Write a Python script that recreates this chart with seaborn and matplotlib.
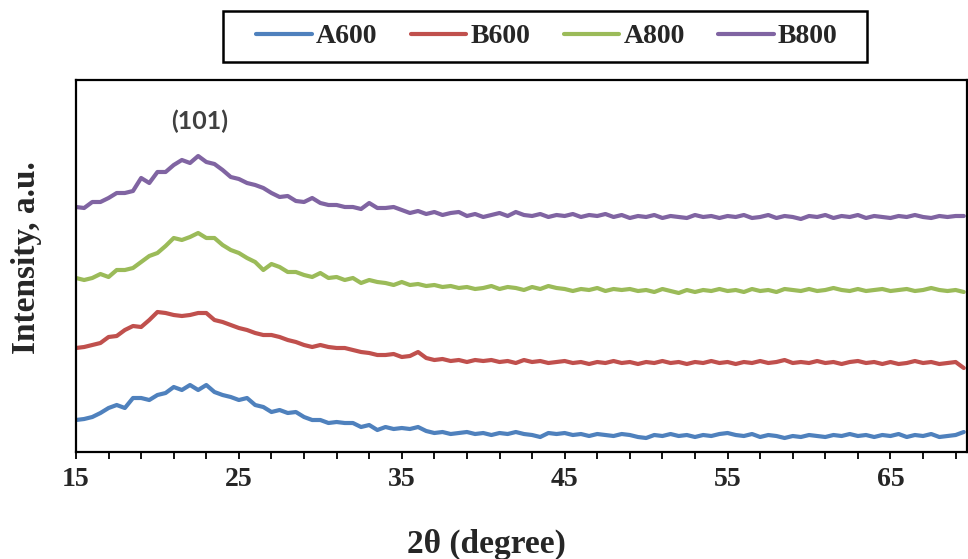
import numpy as np
import pandas as pd
import seaborn as sns
import matplotlib.pyplot as plt
from matplotlib.patches import Rectangle

# 2theta grid, 0.5 degree steps (15.0 ... 69.5)
two_theta = np.arange(15.0, 70.0, 0.5)

samples = ["A600", "B600", "A800", "B800"]
colors = ["#4F81BD", "#C0504D", "#9BBB59", "#8064A2"]

# intensities (a.u., curves already stacked with offset as in the figure)
a600 = [32, 33, 35, 39, 44, 47, 44, 54, 54, 52,
        57, 59, 65, 62, 67, 62, 67, 60, 57, 55,
        52, 54, 47, 45, 40, 42, 39, 40, 35, 32,
        32, 29, 30, 29, 29, 25, 27, 22, 25, 23,
        24, 23, 25, 21, 19, 20, 18, 19, 20, 18,
        19, 17, 19, 18, 20, 18, 17, 15, 19, 18,
        19, 17, 18, 16, 18, 17, 16, 18, 17, 15,
        14, 17, 16, 18, 16, 17, 15, 17, 16, 18,
        19, 17, 16, 18, 15, 17, 16, 14, 16, 15,
        17, 16, 15, 17, 16, 18, 16, 17, 15, 17,
        16, 18, 15, 17, 16, 18, 15, 16, 17, 20]

b600 = [104, 105, 107, 109, 115, 116, 122, 126, 125, 132,
        140, 139, 137, 136, 137, 139, 139, 132, 130, 127,
        124, 122, 119, 117, 117, 115, 112, 110, 107, 105,
        107, 105, 104, 104, 102, 100, 99, 97, 97, 98,
        95, 96, 100, 94, 92, 93, 91, 92, 90, 92,
        91, 92, 90, 91, 89, 92, 90, 91, 89, 90,
        91, 89, 90, 88, 90, 89, 91, 89, 90, 88,
        90, 89, 91, 89, 90, 88, 90, 89, 91, 89,
        90, 88, 90, 89, 91, 89, 90, 92, 89, 90,
        89, 91, 89, 90, 88, 90, 91, 89, 90, 88,
        90, 88, 89, 91, 89, 90, 88, 89, 90, 84]

a800 = [174, 172, 174, 178, 175, 182, 182, 184, 190, 196,
        199, 206, 214, 212, 215, 219, 214, 214, 207, 202,
        199, 194, 190, 182, 188, 185, 180, 180, 177, 175,
        179, 174, 175, 172, 174, 169, 172, 170, 169, 167,
        170, 167, 168, 166, 167, 165, 166, 164, 165, 163,
        164, 166, 163, 165, 164, 162, 165, 163, 166, 164,
        163, 161, 163, 162, 164, 161, 163, 162, 163, 161,
        162, 160, 163, 161, 159, 162, 160, 162, 161, 163,
        161, 162, 160, 163, 161, 162, 160, 163, 162, 161,
        163, 161, 162, 164, 162, 161, 163, 161, 162, 163,
        161, 162, 163, 161, 162, 164, 162, 161, 162, 160]

b800 = [245, 244, 250, 250, 254, 259, 259, 261, 274, 269,
        280, 280, 287, 292, 289, 296, 290, 288, 282, 275,
        273, 269, 267, 264, 259, 255, 256, 251, 250, 254,
        249, 247, 247, 245, 245, 243, 249, 244, 244, 245,
        242, 239, 241, 238, 240, 237, 239, 240, 236, 238,
        235, 237, 239, 236, 240, 237, 236, 238, 235, 237,
        236, 238, 235, 237, 236, 238, 235, 237, 234, 236,
        235, 237, 234, 236, 235, 234, 237, 235, 236, 234,
        236, 235, 237, 234, 235, 237, 234, 236, 235, 233,
        236, 235, 237, 234, 236, 235, 237, 234, 236, 235,
        234, 236, 235, 237, 235, 234, 236, 235, 236, 236]

df = pd.DataFrame({
    "two_theta": np.tile(two_theta, 4),
    "intensity": a600 + b600 + a800 + b800,
    "sample": np.repeat(samples, len(two_theta)),
})

sns.set_theme(style="white")
plt.rcParams["font.family"] = ["Liberation Serif", "DejaVu Serif"]
plt.rcParams["font.weight"] = "bold"

fig = plt.figure(figsize=(9.68, 5.59), dpi=100)
ax = fig.add_axes([0.0785, 0.1914, 0.9205, 0.6655])

sns.lineplot(data=df, x="two_theta", y="intensity", hue="sample",
             palette=colors, hue_order=samples, linewidth=3, ax=ax)

handles, labels = ax.get_legend_handles_labels()
ax.get_legend().remove()
for h in handles:
    h.set_linewidth(3)

ax.set_xlim(15, 69.7)
ax.set_ylim(0, 372)
ax.set_yticks([])
ax.set_xticks(range(15, 66, 10))
ax.set_xticks(range(15, 70, 2), minor=True)
ax.tick_params(axis="x", which="both", bottom=True, direction="out",
               length=5, width=1.3, color="black", labelsize=20, pad=6)
for s in ax.spines.values():
    s.set_color("black")
    s.set_linewidth(1.6)

ax.set_xlabel("2θ (degree)", fontsize=24, fontweight="bold")
ax.xaxis.set_label_coords(0.461, -0.206)
ax.set_ylabel("Intensity, a.u.", fontsize=24, fontweight="bold")
ax.yaxis.set_label_coords(-0.038, 0.524)

ax.text(22.6, 331, "(101)", ha="center", va="center", fontsize=18,
        fontweight="bold", color="#404040", family=["Lato", "DejaVu Sans"])

leg = fig.legend(handles, labels, loc="center", bbox_to_anchor=(0.565, 0.9347),
                 ncol=4, frameon=False, fontsize=20, handlelength=2.0,
                 handletextpad=0.15, columnspacing=1.2)
fig.add_artist(Rectangle((223 / 968, 1 - 62 / 559), 644 / 968, 51 / 559,
                         transform=fig.transFigure, fill=False,
                         edgecolor="black", linewidth=1.8))

fig.savefig("out.png", dpi=100)
